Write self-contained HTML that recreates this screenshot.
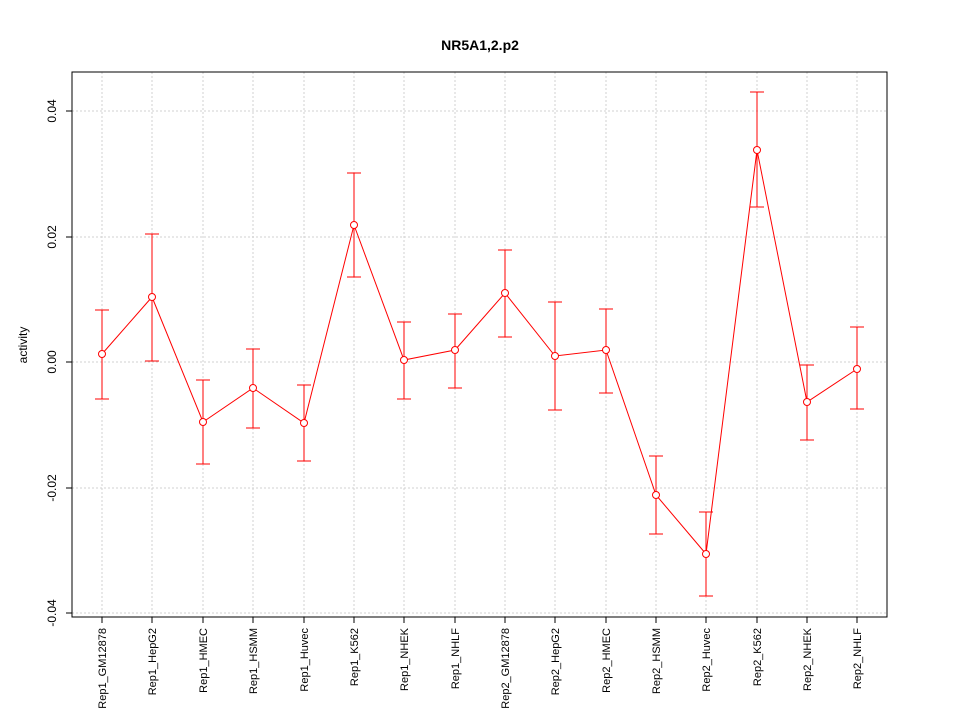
<!DOCTYPE html>
<html><head><meta charset="utf-8"><style>body{margin:0;background:#fff}</style></head><body>
<svg width="960" height="720" xmlns="http://www.w3.org/2000/svg" font-family="Liberation Sans, sans-serif">
<rect width="960" height="720" fill="#fff"/>
<text x="480" y="50" text-anchor="middle" font-size="14" font-weight="bold">NR5A1,2.p2</text>
<g stroke="#d0d0d0" stroke-dasharray="2,2" stroke-width="1">
<line x1="72" x2="887" y1="111" y2="111"/><line x1="72" x2="887" y1="237" y2="237"/><line x1="72" x2="887" y1="362" y2="362"/><line x1="72" x2="887" y1="488" y2="488"/><line x1="72" x2="887" y1="613" y2="613"/>
<line x1="102" x2="102" y1="72" y2="617"/><line x1="152" x2="152" y1="72" y2="617"/><line x1="203" x2="203" y1="72" y2="617"/><line x1="253" x2="253" y1="72" y2="617"/><line x1="304" x2="304" y1="72" y2="617"/><line x1="354" x2="354" y1="72" y2="617"/><line x1="404" x2="404" y1="72" y2="617"/><line x1="455" x2="455" y1="72" y2="617"/><line x1="505" x2="505" y1="72" y2="617"/><line x1="555" x2="555" y1="72" y2="617"/><line x1="606" x2="606" y1="72" y2="617"/><line x1="656" x2="656" y1="72" y2="617"/><line x1="706" x2="706" y1="72" y2="617"/><line x1="757" x2="757" y1="72" y2="617"/><line x1="807" x2="807" y1="72" y2="617"/><line x1="857" x2="857" y1="72" y2="617"/>
</g>
<g stroke="red" fill="none">
<path d="M102 310V399M95 310H109M95 399H109"/>
<path d="M152 234V361M145 234H159M145 361H159"/>
<path d="M203 380V464M196 380H210M196 464H210"/>
<path d="M253 349V428M246 349H260M246 428H260"/>
<path d="M304 385V461M297 385H311M297 461H311"/>
<path d="M354 173V277M347 173H361M347 277H361"/>
<path d="M404 322V399M397 322H411M397 399H411"/>
<path d="M455 314V388M448 314H462M448 388H462"/>
<path d="M505 250V337M498 250H512M498 337H512"/>
<path d="M555 302V410M548 302H562M548 410H562"/>
<path d="M606 309V393M599 309H613M599 393H613"/>
<path d="M656 456V534M649 456H663M649 534H663"/>
<path d="M706 512V596M699 512H713M699 596H713"/>
<path d="M757 92V207M750 92H764M750 207H764"/>
<path d="M807 365V440M800 365H814M800 440H814"/>
<path d="M857 327V409M850 327H864M850 409H864"/>
<polyline points="102,354 152,297 203,422 253,388 304,423 354,225 404,360 455,350 505,293 555,356 606,350 656,495 706,554 757,150 807,402 857,369"/>
<circle cx="102" cy="354" r="3.5" fill="#fff"/><circle cx="152" cy="297" r="3.5" fill="#fff"/><circle cx="203" cy="422" r="3.5" fill="#fff"/><circle cx="253" cy="388" r="3.5" fill="#fff"/><circle cx="304" cy="423" r="3.5" fill="#fff"/><circle cx="354" cy="225" r="3.5" fill="#fff"/><circle cx="404" cy="360" r="3.5" fill="#fff"/><circle cx="455" cy="350" r="3.5" fill="#fff"/><circle cx="505" cy="293" r="3.5" fill="#fff"/><circle cx="555" cy="356" r="3.5" fill="#fff"/><circle cx="606" cy="350" r="3.5" fill="#fff"/><circle cx="656" cy="495" r="3.5" fill="#fff"/><circle cx="706" cy="554" r="3.5" fill="#fff"/><circle cx="757" cy="150" r="3.5" fill="#fff"/><circle cx="807" cy="402" r="3.5" fill="#fff"/><circle cx="857" cy="369" r="3.5" fill="#fff"/>
</g>
<rect x="72" y="72" width="815" height="545" fill="none" stroke="#000"/>
<g stroke="#000"><line x1="72" x2="66" y1="111" y2="111"/><line x1="72" x2="66" y1="237" y2="237"/><line x1="72" x2="66" y1="362" y2="362"/><line x1="72" x2="66" y1="488" y2="488"/><line x1="72" x2="66" y1="613" y2="613"/>
<path d="M102 617v6M152 617v6M203 617v6M253 617v6M304 617v6M354 617v6M404 617v6M455 617v6M505 617v6M555 617v6M606 617v6M656 617v6M706 617v6M757 617v6M807 617v6M857 617v6"/></g>
<g font-size="12" text-anchor="middle">
<text transform="translate(56,111) rotate(-90)">0.04</text>
<text transform="translate(56,237) rotate(-90)">0.02</text>
<text transform="translate(56,362) rotate(-90)">0.00</text>
<text transform="translate(56,488) rotate(-90)">-0.02</text>
<text transform="translate(56,613) rotate(-90)">-0.04</text>
<text transform="translate(27,345) rotate(-90)">activity</text>
</g>
<g font-size="11" text-anchor="end">
<text transform="translate(106,628) rotate(-90)">Rep1_GM12878</text>
<text transform="translate(156,628) rotate(-90)">Rep1_HepG2</text>
<text transform="translate(207,628) rotate(-90)">Rep1_HMEC</text>
<text transform="translate(257,628) rotate(-90)">Rep1_HSMM</text>
<text transform="translate(308,628) rotate(-90)">Rep1_Huvec</text>
<text transform="translate(358,628) rotate(-90)">Rep1_K562</text>
<text transform="translate(408,628) rotate(-90)">Rep1_NHEK</text>
<text transform="translate(459,628) rotate(-90)">Rep1_NHLF</text>
<text transform="translate(509,628) rotate(-90)">Rep2_GM12878</text>
<text transform="translate(559,628) rotate(-90)">Rep2_HepG2</text>
<text transform="translate(610,628) rotate(-90)">Rep2_HMEC</text>
<text transform="translate(660,628) rotate(-90)">Rep2_HSMM</text>
<text transform="translate(710,628) rotate(-90)">Rep2_Huvec</text>
<text transform="translate(761,628) rotate(-90)">Rep2_K562</text>
<text transform="translate(811,628) rotate(-90)">Rep2_NHEK</text>
<text transform="translate(861,628) rotate(-90)">Rep2_NHLF</text>
</g>
</svg>
</body></html>
